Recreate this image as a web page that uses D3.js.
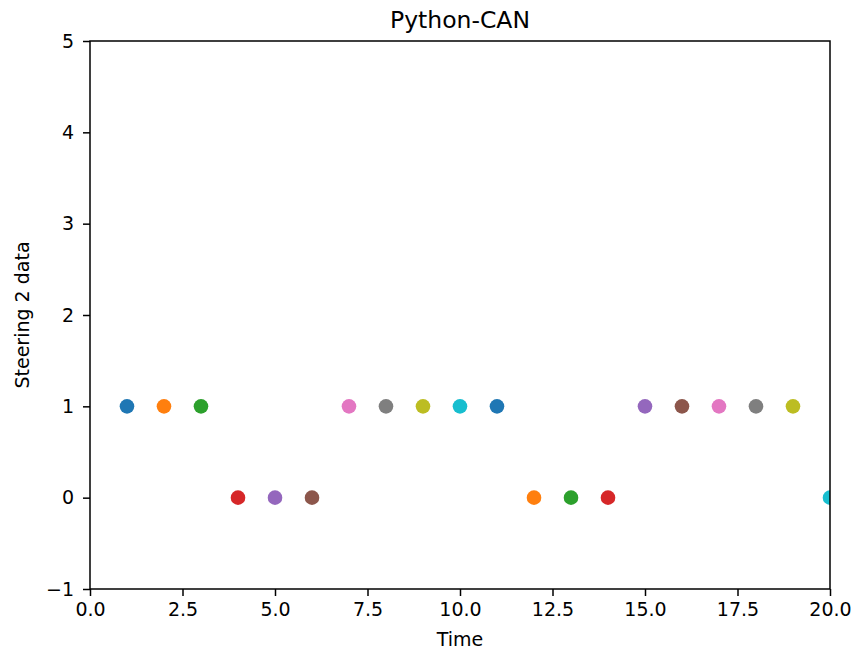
<!DOCTYPE html>
<html><head><meta charset="utf-8">
<script src="https://cdn.jsdelivr.net/npm/d3@7"></script>
<style>body{margin:0;background:#fff}svg{display:block}text{font-family:"DejaVu Sans",sans-serif;fill:#000}</style>
</head><body>
<script>
const times = [1,2,3,4,5,6,7,8,9,10,11,12,13,14,15,16,17,18,19,20];
const values = [1,1,1,0,0,0,1,1,1,1,1,0,0,0,1,1,1,1,1,0];
const colors = ["#1f77b4","#ff7f0e","#2ca02c","#d62728","#9467bd","#8c564b","#e377c2","#7f7f7f","#bcbd22","#17becf"];
const xTicks = [0,2.5,5,7.5,10,12.5,15,17.5,20];
const yTicks = [-1,0,1,2,3,4,5];
const title = "Python-CAN", xLabel = "Time", yLabel = "Steering 2 data";

const W = 857, H = 654;
const m = {l:90, r:W-830, t:41, b:H-589};
const svg = d3.select("body").append("svg").attr("width",W).attr("height",H);
const x = d3.scaleLinear().domain([0,20]).range([m.l, W-m.r]);
const y = d3.scaleLinear().domain([-1,5]).range([H-m.b, m.t]);

svg.append("clipPath").attr("id","clip").append("rect")
  .attr("x",m.l).attr("y",m.t).attr("width",W-m.l-m.r).attr("height",H-m.t-m.b);

svg.append("g").attr("clip-path","url(#clip)").selectAll("circle").data(times).join("circle")
  .attr("cx",(d)=>x(d)).attr("cy",(d,i)=>y(values[i])).attr("r",7.3)
  .attr("fill",(d,i)=>colors[i%colors.length]);

const xa = svg.append("g").attr("transform",`translate(0,${H-m.b})`)
  .call(d3.axisBottom(x).tickValues(xTicks).tickFormat(d3.format(".1f")).tickSize(7).tickPadding(7));
const ya = svg.append("g").attr("transform",`translate(${m.l},0)`)
  .call(d3.axisLeft(y).tickValues(yTicks).tickFormat(d=>d<0?"\u2212"+(-d):d).tickSize(7).tickPadding(9));
[xa,ya].forEach(a=>{a.selectAll("text").style("font-size","19px").attr("fill","#000");
  a.selectAll("line").attr("stroke","#000").attr("stroke-width",1.5);
  a.select(".domain").remove();});

svg.append("rect").attr("x",m.l).attr("y",m.t).attr("width",W-m.l-m.r).attr("height",H-m.t-m.b)
  .attr("fill","none").attr("stroke","#000").attr("stroke-width",1.5);

svg.append("text").attr("x",(m.l+W-m.r)/2).attr("y",28).attr("text-anchor","middle").style("font-size","23.5px").text(title);
svg.append("text").attr("x",(m.l+W-m.r)/2).attr("y",646).attr("text-anchor","middle").style("font-size","19px").text(xLabel);
svg.append("text").attr("transform",`translate(29,${(m.t+H-m.b)/2}) rotate(-90)`).attr("text-anchor","middle").style("font-size","19px").text(yLabel);
</script>
</body></html>
